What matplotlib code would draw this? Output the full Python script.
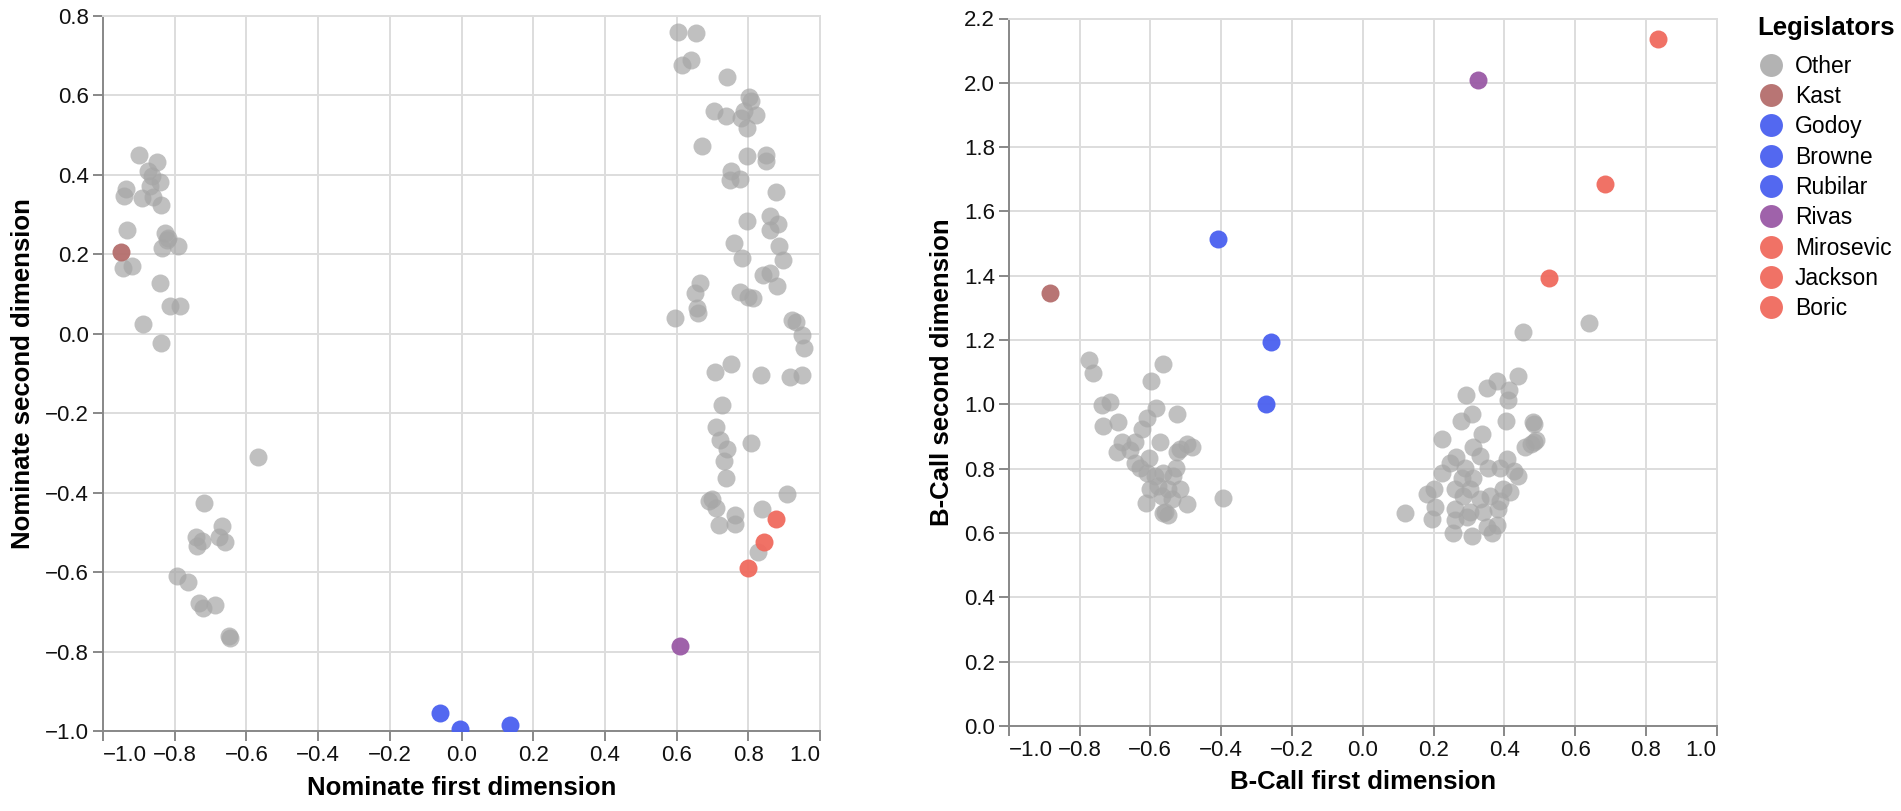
import matplotlib
matplotlib.use("Agg")
import matplotlib.pyplot as plt
from matplotlib.lines import Line2D
import numpy as np

plt.rcParams['font.family'] = ['Liberation Sans', 'DejaVu Sans']

# ---------------- data ----------------
categories = ["Other", "Kast", "Godoy", "Browne", "Rubilar", "Rivas", "Mirosevic", "Jackson", "Boric"]
cat_colors = ["#a6a6a6", "#b46e6c", "#4a60f0", "#4a60f0", "#4a60f0", "#9a5aa6", "#f06a5e", "#f06a5e", "#f06a5e"]

nom_other_x = [-0.90, -0.85, -0.874, -0.864, -0.841, -0.937, -0.941, -0.892, -0.86, -0.838,
               -0.934, -0.827, -0.818, -0.836, -0.79, -0.943, -0.92, -0.841, -0.813, -0.785,
               -0.889, -0.837, -0.567, -0.718, -0.669, -0.74, -0.725, -0.676, -0.66, -0.739,
               -0.793, -0.762, -0.731, -0.72, -0.688, -0.648, -0.645, -0.868, -0.822,
               0.605, 0.654, 0.616, 0.64, 0.741, 0.802, 0.807, 0.703, 0.737, 0.787,
               0.822, 0.781, 0.795, 0.672, 0.795, 0.849, 0.849, 0.753, 0.749, 0.777,
               0.877, 0.861, 0.884, 0.861, 0.797, 0.76, 0.886, 0.898, 0.783, 0.665,
               0.651, 0.658, 0.661, 0.595, 0.842, 0.861, 0.881, 0.777, 0.80, 0.812,
               0.921, 0.933, 0.951, 0.956, 0.707, 0.751, 0.835, 0.916, 0.949, 0.728,
               0.709, 0.721, 0.74, 0.808, 0.733, 0.737, 0.907, 0.70, 0.69, 0.711,
               0.837, 0.763, 0.719, 0.764, 0.828]
nom_other_y = [0.451, 0.432, 0.409, 0.396, 0.381, 0.365, 0.348, 0.342, 0.344, 0.323,
               0.262, 0.254, 0.241, 0.216, 0.222, 0.166, 0.17, 0.128, 0.071, 0.071,
               0.024, -0.022, -0.309, -0.426, -0.483, -0.512, -0.521, -0.512, -0.523, -0.535,
               -0.61, -0.624, -0.677, -0.691, -0.684, -0.762, -0.766, 0.372, 0.235,
               0.759, 0.756, 0.677, 0.69, 0.646, 0.596, 0.585, 0.56, 0.549, 0.56,
               0.551, 0.543, 0.518, 0.472, 0.448, 0.451, 0.436, 0.409, 0.388, 0.39,
               0.357, 0.296, 0.277, 0.262, 0.283, 0.229, 0.22, 0.185, 0.191, 0.127,
               0.103, 0.065, 0.053, 0.04, 0.147, 0.153, 0.12, 0.105, 0.092, 0.089,
               0.034, 0.029, -0.002, -0.037, -0.095, -0.075, -0.104, -0.109, -0.104, -0.18,
               -0.234, -0.267, -0.29, -0.275, -0.321, -0.362, -0.404, -0.416, -0.42, -0.439,
               -0.44, -0.456, -0.482, -0.479, -0.55]

nom_named = ["Kast", "Godoy", "Browne", "Rubilar", "Rivas", "Mirosevic", "Jackson", "Boric"]
nom_named_x = [-0.95, -0.06, -0.005, 0.135, 0.61, 0.876, 0.845, 0.80]
nom_named_y = [0.206, -0.955, -0.995, -0.985, -0.785, -0.466, -0.523, -0.59]

bc_other_x = [-0.773, -0.761, -0.563, -0.598, -0.737, -0.714, -0.69, -0.734, -0.584, -0.608,
              -0.624, -0.524, -0.681, -0.643, -0.574, -0.695, -0.657, -0.525, -0.497, -0.483,
              -0.516, -0.643, -0.605, -0.629, -0.61, -0.587, -0.563, -0.527, -0.535, -0.601,
              -0.577, -0.549, -0.516, -0.568, -0.54, -0.612, -0.497, -0.558, -0.549, -0.565,
              -0.396,
              0.452, 0.44, 0.379, 0.351, 0.413, 0.411, 0.292, 0.308, 0.277, 0.405,
              0.48, 0.336, 0.223, 0.312, 0.459, 0.483, 0.263, 0.33, 0.407, 0.247,
              0.289, 0.355, 0.388, 0.426, 0.223, 0.28, 0.312, 0.44, 0.2, 0.261,
              0.303, 0.397, 0.416, 0.181, 0.284, 0.331, 0.359, 0.388, 0.204, 0.261,
              0.303, 0.341, 0.383, 0.120, 0.195, 0.261, 0.294, 0.256, 0.308, 0.364,
              0.379, 0.351, 0.485, 0.49, 0.475, 0.639]
bc_other_y = [1.137, 1.097, 1.124, 1.073, 0.999, 1.007, 0.944, 0.931, 0.987, 0.958,
              0.923, 0.971, 0.883, 0.883, 0.883, 0.851, 0.859, 0.851, 0.875, 0.867,
              0.862, 0.818, 0.834, 0.802, 0.786, 0.778, 0.786, 0.802, 0.778, 0.738,
              0.746, 0.738, 0.738, 0.714, 0.706, 0.694, 0.689, 0.665, 0.657, 0.662,
              0.71,
              1.224, 1.089, 1.071, 1.052, 1.044, 1.012, 1.028, 0.971, 0.947, 0.947,
              0.944, 0.907, 0.891, 0.867, 0.867, 0.883, 0.835, 0.839, 0.831, 0.818,
              0.802, 0.802, 0.802, 0.794, 0.786, 0.77, 0.77, 0.778, 0.738, 0.738,
              0.738, 0.738, 0.727, 0.722, 0.714, 0.706, 0.714, 0.698, 0.681, 0.673,
              0.665, 0.665, 0.673, 0.661, 0.644, 0.641, 0.649, 0.601, 0.59, 0.601,
              0.625, 0.617, 0.94, 0.89, 0.875, 1.254]

bc_named = ["Kast", "Godoy", "Browne", "Rubilar", "Rivas", "Mirosevic", "Jackson", "Boric"]
bc_named_x = [-0.883, -0.408, -0.26, -0.274, 0.327, 0.526, 0.684, 0.835]
bc_named_y = [1.345, 1.514, 1.194, 1.002, 2.01, 1.392, 1.684, 2.136]

# ---------------- style ----------------
W, H = 1901, 811
fig = plt.figure(figsize=(W / 100, H / 100), dpi=100)
color_of = dict(zip(categories, cat_colors))

GRID = "#dddddd"
DOMAIN = "#888888"
MS = 168
TICK_FS = 16
TITLE_FS = 18.5


def fmt(v):
    if abs(v) < 1e-9:
        v = 0.0
    s = "%.1f" % v
    if s.startswith("-"):
        s = "\u2212" + s[1:]
    return s


def style_axis(ax, xticks, yticks, xlim, ylim, xlabel, ylabel):
    ax.set_xlim(*xlim)
    ax.set_ylim(*ylim)
    ax.set_xticks(xticks)
    ax.set_yticks(yticks)
    ax.set_xticklabels([fmt(v) for v in xticks])
    ax.set_yticklabels([fmt(v) for v in yticks])
    labs = ax.get_xticklabels()
    labs[0].set_horizontalalignment("left")
    labs[-1].set_horizontalalignment("right")
    ax.grid(True, color=GRID, linewidth=1.4, zorder=0)
    ax.set_axisbelow(True)
    for s in ["top", "right"]:
        ax.spines[s].set_color(GRID)
        ax.spines[s].set_linewidth(1.4)
    for s in ["left", "bottom"]:
        ax.spines[s].set_color(DOMAIN)
        ax.spines[s].set_linewidth(1.4)
    ax.tick_params(axis="both", length=7, width=1.4, color=DOMAIN,
                   labelsize=TICK_FS, labelcolor="#111111", pad=3)
    ax.set_xlabel(xlabel, fontsize=TITLE_FS, fontweight="bold", labelpad=7)
    ax.set_ylabel(ylabel, fontsize=TITLE_FS, fontweight="bold", labelpad=7)


# Left chart
ax1 = fig.add_axes([103 / W, (H - 731) / H, 717 / W, 715 / H])
ax1.scatter(nom_other_x, nom_other_y, s=MS, color=color_of["Other"], alpha=0.7,
            linewidths=0, zorder=3)
for n, x, y in zip(nom_named, nom_named_x, nom_named_y):
    ax1.scatter([x], [y], s=MS, color=color_of[n], alpha=0.95, linewidths=0, zorder=4)
style_axis(ax1, np.round(np.arange(-1.0, 1.01, 0.2), 1), np.round(np.arange(-1.0, 0.81, 0.2), 1),
           (-1.0, 1.0), (-1.0, 0.8), "Nominate first dimension", "Nominate second dimension")

# Right chart
ax2 = fig.add_axes([1008.7 / W, (H - 725.8) / H, 708 / W, 707.3 / H])
ax2.scatter(bc_other_x, bc_other_y, s=MS, color=color_of["Other"], alpha=0.7,
            linewidths=0, zorder=3)
for n, x, y in zip(bc_named, bc_named_x, bc_named_y):
    ax2.scatter([x], [y], s=MS, color=color_of[n], alpha=0.95, linewidths=0, zorder=4)
style_axis(ax2, np.round(np.arange(-1.0, 1.01, 0.2), 1), np.round(np.arange(0.0, 2.21, 0.2), 1),
           (-1.0, 1.0), (0.0, 2.2), "B-Call first dimension", "B-Call second dimension")

# Legend
handles = [Line2D([0], [0], marker="o", linestyle="", markersize=16.5,
                  markerfacecolor=c, markeredgewidth=0, alpha=0.85 if n == "Other" else 0.95)
           for n, c in zip(categories, cat_colors)]
leg = fig.legend(handles, categories, loc="upper left",
                 bbox_to_anchor=(1757 / W, 1 - 16 / H), frameon=False,
                 title="Legislators", alignment="left",
                 fontsize=16.5, title_fontproperties={"weight": "bold", "size": 18.5},
                 handlelength=1.22, handletextpad=0.44, labelspacing=0.32,
                 borderpad=0, borderaxespad=0)
leg._legend_box.sep = 10.6

fig.savefig("out.png", dpi=100)
